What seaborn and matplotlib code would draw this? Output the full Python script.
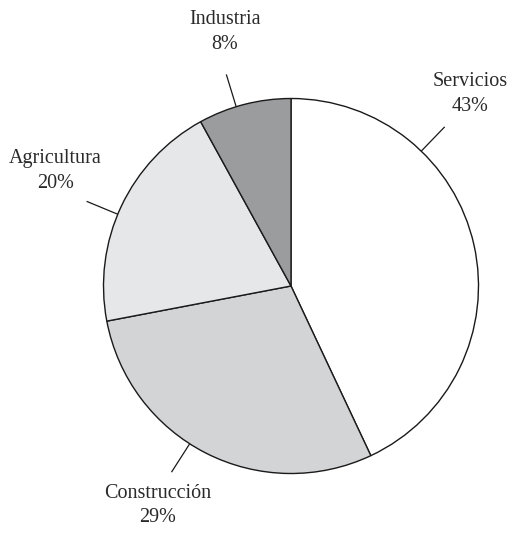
import numpy as np
import matplotlib
matplotlib.use("Agg")
import matplotlib.pyplot as plt
import seaborn as sns

# Sector shares (%), drawn clockwise from twelve o'clock
sectors = ["Servicios", "Construcción", "Agricultura", "Industria"]
shares = [43, 29, 20, 8]
colors = ["#ffffff", "#d3d4d6", "#e6e7e9", "#9b9c9e"]

# Label layout: leader-line angle, text angle (degrees) and text radius
leader_angles = [46.0, -122.7, 157.5, 107.0]
text_angles = [47.0, -121.3, 154.0, 104.6]
text_radii = [1.40, 1.37, 1.40, 1.40]
leader_r = (1.0, 1.18)

sns.set_theme(style="white")
plt.rcParams["font.family"] = ["Liberation Serif", "DejaVu Serif"]

W, H = 508, 533
cx, cy, R = 291, 286, 187.5  # pie centre and radius in pixels
fig = plt.figure(figsize=(W / 100, H / 100), dpi=100)
ax = fig.add_axes([0, 0, 1, 1])

ax.pie(shares, colors=colors, startangle=90, counterclock=False,
       radius=1.0, center=(0, 0), frame=True,
       wedgeprops=dict(edgecolor="#1a1a1a", linewidth=1.0))
ax.set_xlim(-cx / R, (W - cx) / R)
ax.set_ylim(-(H - cy) / R, cy / R)
ax.axis("off")

for name, val, la, ta, tr in zip(sectors, shares, leader_angles,
                                 text_angles, text_radii):
    a = np.deg2rad(la)
    ax.plot([leader_r[0] * np.cos(a), leader_r[1] * np.cos(a)],
            [leader_r[0] * np.sin(a), leader_r[1] * np.sin(a)],
            color="#1a1a1a", linewidth=0.9, solid_capstyle="butt")
    t = np.deg2rad(ta)
    ax.text(tr * np.cos(t), tr * np.sin(t), f"{name}\n{val}%",
            ha="center", va="center", fontsize=14.5, color="#2a2a2a",
            linespacing=1.4)

fig.savefig("out.png", dpi=100)
